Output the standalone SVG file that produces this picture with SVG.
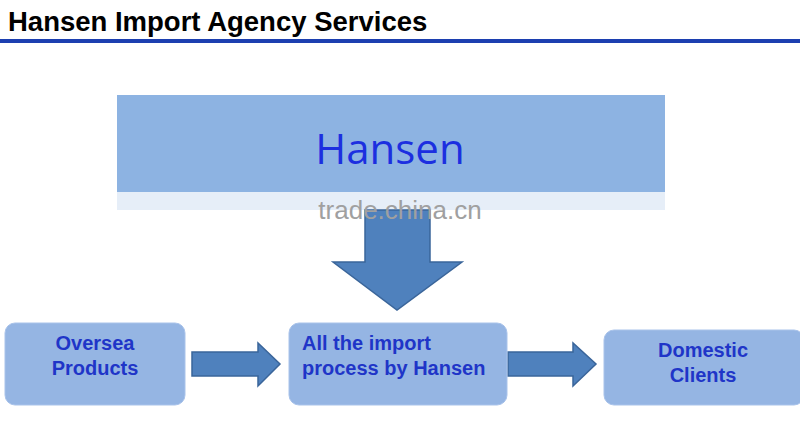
<svg xmlns="http://www.w3.org/2000/svg" width="800" height="437" viewBox="0 0 800 437">
<style>
.box{fill:#95b5e3;stroke:#a9c3ea;stroke-width:1}
.lbl{font-family:"Liberation Sans",Arial,sans-serif;font-weight:bold;font-size:20px;fill:#1f35c8}
.arr{fill:#4f81bd;stroke:#3a659a;stroke-width:1.5}
</style>
<rect width="800" height="437" fill="#fff"/>
<text x="8" y="31" font-family="Liberation Sans,Arial,sans-serif" font-weight="bold" font-size="27.5" fill="#000">Hansen Import Agency Services</text>
<rect x="0" y="39" width="800" height="4" fill="#1c3fb0"/>
<g id="hansen">
<rect x="117" y="95" width="548" height="97" fill="#8db3e2"/>
<rect x="117" y="192" width="548" height="18" fill="#dce7f5" opacity="0.7"/>
<text x="390" y="164" text-anchor="middle" font-family="Open Sans,sans-serif" font-size="42" fill="#1c2fe0">Hansen</text>
</g>
<g id="connectors">
<path class="arr" d="M365 210 H430 V262 H462 L397 310 L333 262 H365 Z"/>
<path class="arr" d="M192 352 H258 V343 L280 364 L258 386 V376 H192 Z"/>
<path class="arr" d="M508 352 H573 V343 L596 364 L573 386 V376 H508 Z"/>
</g>
<text x="400" y="219" text-anchor="middle" font-family="Liberation Sans,Arial,sans-serif" font-size="26" fill="#a0a0a0">trade.china.cn</text>
<g id="oversea">
<rect class="box" x="5" y="323" width="180" height="82" rx="10"/>
<text class="lbl" x="95" y="350" text-anchor="middle">Oversea</text>
<text class="lbl" x="95" y="375" text-anchor="middle">Products</text>
</g>
<g id="process">
<rect class="box" x="289" y="323" width="218" height="82" rx="10"/>
<text class="lbl" x="302" y="350">All the import</text>
<text class="lbl" x="302" y="375">process by Hansen</text>
</g>
<g id="domestic">
<rect class="box" x="604" y="330" width="200" height="75" rx="10"/>
<text class="lbl" x="703" y="357" text-anchor="middle">Domestic</text>
<text class="lbl" x="703" y="382" text-anchor="middle">Clients</text>
</g>
</svg>
